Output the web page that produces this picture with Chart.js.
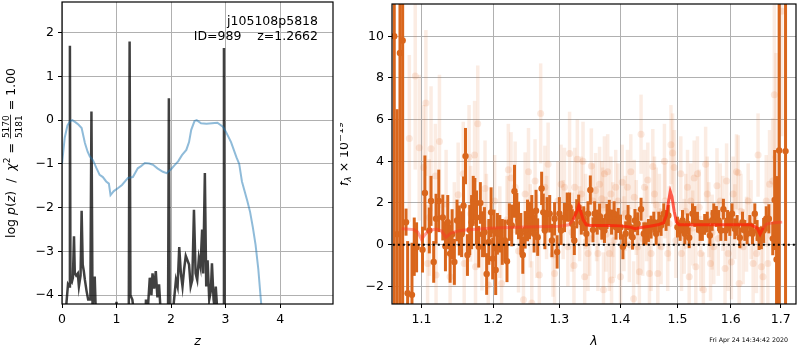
<!DOCTYPE html>
<html>
<head>
<meta charset="utf-8">
<script src="https://cdn.jsdelivr.net/npm/chart.js@4.4.1/dist/chart.umd.min.js"></script>
<style>
  html, body { margin: 0; padding: 0; background: #fff; }
  #wrap { position: relative; width: 800px; height: 350px; overflow: hidden; }
  #pz { position: absolute; left: 0; top: 0; width: 340px; height: 350px; }
  #sp { position: absolute; left: 340px; top: 0; width: 460px; height: 350px; }
</style>
</head>
<body>
<div id="wrap">
  <canvas id="pz" width="340" height="350"></canvas>
  <canvas id="sp" width="460" height="350"></canvas>
</div>
<script>
// ── p(z) panel data ─────────────────────────────────────
const zGrid = [0.05, 0.08, 0.11, 0.135, 0.145, 0.155, 0.18, 0.2, 0.22, 0.235, 0.26, 0.29, 0.31, 0.34, 0.36, 0.38, 0.4, 0.42, 0.45, 0.48, 0.52, 0.54, 0.56, 0.6, 0.62, 0.66,
  0.9, 1.0, 1.02, 1.2, 1.225, 1.24, 1.255, 1.29, 1.32, 1.36,
  1.5, 1.54, 1.57, 1.61, 1.64, 1.66, 1.69, 1.72, 1.75, 1.78, 1.81, 1.85,
  1.94, 1.96, 1.98, 2.04, 2.09, 2.12, 2.15, 2.18, 2.21, 2.24, 2.27, 2.3, 2.33, 2.36, 2.39, 2.42, 2.45, 2.48, 2.51, 2.54, 2.57, 2.59, 2.62, 2.645, 2.67, 2.7, 2.73, 2.75, 2.78, 2.8, 2.82, 2.85, 2.9,
  2.955, 2.97, 2.985, 3.05];
const logPz = [-6, -4.2, -3.75, -3.8, 1.7, -3.65, -3.7, -3.6, -2.65, -3.5, -3.55, -3.5, -3.8, -3.55, -2.07, -3.3, -3.45, -3.65, -3.9, -4.1, -4.1, 0.2, -4.3, -3.57, -4.4, -6,
  -6, -4.15, -6, -6, -4.3, 1.8, -4.0, -4.1, -4.4, -6,
  -6, -4.1, -4.4, -3.6, -4.0, -3.5, -3.85, -3.45, -4.05, -3.75, -4.4, -6,
  -6, 0.5, -6, -4.3, -3.65, -3.8, -2.9, -3.5, -3.8, -3.4, -3.1, -3.2, -3.3, -3.8, -3.65, -2.05, -3.5, -3.65, -3.15, -3.35, -2.5, -3.5, -1.21, -3.8, -3.2, -4.1, -3.9, -3.27, -4.1, -4.3, -3.8, -4.4, -6,
  -6, 1.65, -6, -8];

const zPrior = [0, 0.05, 0.1, 0.15, 0.19, 0.25, 0.3, 0.36, 0.42, 0.47, 0.51, 0.57, 0.63, 0.69, 0.75, 0.81, 0.86, 0.89, 0.95, 1.03, 1.1, 1.21, 1.3, 1.39, 1.45, 1.52, 1.6, 1.67, 1.75, 1.85, 1.92, 2.0, 2.07, 2.13, 2.2, 2.28, 2.33, 2.37, 2.43, 2.47, 2.55, 2.65, 2.75, 2.85, 2.95, 3.0, 3.1, 3.2, 3.25, 3.3, 3.4, 3.45, 3.5, 3.55, 3.6, 3.65, 3.7];
const logPrior = [-1.0, -0.4, -0.12, -0.02, 0, -0.05, -0.1, -0.18, -0.52, -0.72, -0.83, -0.92, -1.09, -1.25, -1.3, -1.4, -1.45, -1.71, -1.62, -1.55, -1.48, -1.32, -1.3, -1.1, -1.05, -0.98, -0.99, -1.02, -1.1, -1.18, -1.21, -1.12, -1.02, -0.94, -0.8, -0.68, -0.5, -0.22, -0.02, 0, -0.07, -0.08, -0.07, -0.06, -0.15, -0.25, -0.5, -0.85, -1.0, -1.4, -1.85, -2.1, -2.45, -2.85, -3.4, -4.15, -4.9];

const zTicks = [0, 1, 2, 3, 4];
const pzTicks = [-4, -3, -2, -1, 0, 1, 2];

// ── spectrum panel data ─────────────────────────────────
const waveDark = [1.0643, 1.0680, 1.0717, 1.0752, 1.0796, 1.0817, 1.0874, 1.0904, 1.0935, 1.1014, 1.1046, 1.1105, 1.1128, 1.1164, 1.1196, 1.1233, 1.1288, 1.1324, 1.1356, 1.1388,
  1.1416, 1.1447, 1.1484, 1.1516, 1.1548, 1.1575, 1.1603, 1.1630, 1.1662, 1.1689, 1.1712, 1.1735, 1.1758, 1.1790, 1.1813, 1.1845, 1.1872, 1.1904, 1.1936, 1.1968,
  1.1991, 1.2010, 1.2035, 1.2060, 1.2095, 1.2131, 1.2171, 1.2201, 1.2236, 1.2271, 1.2312, 1.2347, 1.2372, 1.2407, 1.2437, 1.2472, 1.2508, 1.2538, 1.2573, 1.2608,
  1.2638, 1.2663, 1.2724, 1.2749, 1.2774, 1.2809, 1.2849, 1.2884, 1.2925, 1.2965, 1.3000, 1.3027, 1.3081, 1.3124, 1.3162, 1.3205, 1.3238, 1.3276, 1.3308, 1.3351,
  1.3389, 1.3432, 1.3459, 1.3497, 1.3541, 1.3568, 1.3611, 1.3649, 1.3686, 1.3730, 1.3773, 1.3811, 1.3849, 1.3892, 1.3924, 1.3962, 1.4000, 1.4041, 1.4088, 1.4129,
  1.4165, 1.4206, 1.4247, 1.4294, 1.4353, 1.4400, 1.4441, 1.4482, 1.4529, 1.4576, 1.4618, 1.4665, 1.4706, 1.4753, 1.4794, 1.4835, 1.5000, 1.5049, 1.5092, 1.5135,
  1.5184, 1.5215, 1.5276, 1.5319, 1.5368, 1.5417, 1.5460, 1.5503, 1.5552, 1.5601, 1.5644, 1.5675, 1.5724, 1.5767, 1.5810, 1.5859, 1.5902, 1.5939, 1.5982, 1.6026,
  1.6079, 1.6125, 1.6178, 1.6230, 1.6276, 1.6322, 1.6375, 1.6428, 1.6474, 1.6520, 1.6559, 1.6605, 1.6651, 1.6704, 1.6757, 1.6836, 1.6875, 1.6914, 1.6967, 1.7099];
const fluxDark = [10.0, 0.5, 9.2, 9.8, 1.08, -2.33, -2.41, -0.1, -0.13, -0.24, 2.48, 0.68, 2.1, -0.83, 1.24, 2.1, 1.3, -0.08, 1.08, -0.43,
  0.5, -0.83, 1.16, 0.68, 0.5, 1.87, 4.25, -0.5, 0.7, 1.08, 2.1, 2.2, 1.3, -0.1, 2.0, 0.5, 0.6, -1.41, 0.13, 1.55,
  -0.67, 0.68, -1.22, 0.52, 0.52, 0.13, 0.2, -0.8, 1.08, 0.92, 2.56, 1.48, 1.16, 0.52, -0.5, 0.71, 1.16, 1.16, 1.48, 0.52,
  1.63, 0.36, 2.7, 1.55, 0.68, 1.48, 1.48, 0.2, 1.24, -0.35, 1.48, 0.68, 1.3, 1.8, 1.8, 1.0, 0.2, 1.48, 1.8, 1.08,
  1.24, 0.52, 1.48, 2.62, 0.71, 1.48, 1.08, 1.37, 0.84, 0.68, 1.35, 1.55, 1.08, 1.48, 0.84, 1.16, 0.84, -0.1, 0.52, 1.3,
  0.84, 0.36, 1.16, 1.0, 1.7, 0.52, 0.52, 0.68, 0.84, 1.08, 0.52, 1.08, 0.92, 1.48, 1.16, 1.4, 0.84, 0.68, 1.16, 0.52,
  1.0, 0.33, 1.48, 1.35, 1.08, 0.68, 0.68, 0.97, 1.08, 0.44, 1.16, 1.48, 1.35, 1.16, 0.68, 1.7, 0.68, 1.16, 0.92, 1.48,
  0.76, 0.92, 0.33, 1.08, 0.68, 0.52, 0.92, 0.52, 1.48, 0.68, 0.29, 0.33, 0.68, 1.24, 1.24, 0.29, 2.14, -0.71, 4.52, 4.49];
const errDark = [20, 6, 20, 20, 0.65, 2.5, 2.5, 1.4, 1.2, 1.1, 1.8, 1.1, 1.2, 1.0, 1.2, 1.5, 1.1, 1.2, 1.3, 1.4,
  1.2, 1.1, 1.0, 1.2, 1.1, 1.4, 1.35, 1.0, 1.2, 1.3, 1.2, 1.0, 1.3, 1.0, 1.0, 1.1, 1.2, 1.0, 1.1, 1.2,
  1.0, 1.0, 1.2, 1.0, 0.9, 1.1, 1.0, 1.0, 0.9, 1.0, 1.27, 1.0, 0.9, 1.0, 0.9, 0.9, 1.0, 0.9, 0.9, 0.9,
  1.0, 0.9, 0.8, 0.9, 0.9, 0.8, 0.9, 0.8, 0.8, 0.8, 0.8, 0.7, 0.7, 0.7, 0.7, 0.7, 0.7, 0.7, 0.6, 0.6,
  0.6, 0.6, 0.6, 0.7, 0.6, 0.6, 0.6, 0.6, 0.6, 0.6, 0.6, 0.6, 0.6, 0.6, 0.6, 0.6, 0.6, 0.6, 0.6, 0.6,
  0.55, 0.6, 0.55, 0.55, 0.55, 0.55, 0.55, 0.55, 0.55, 0.5, 0.55, 0.5, 0.5, 0.5, 0.5, 0.5, 0.5, 0.5, 0.5, 0.5,
  0.5, 0.5, 0.5, 0.5, 0.5, 0.5, 0.5, 0.5, 0.5, 0.5, 0.5, 0.5, 0.5, 0.5, 0.5, 0.5, 0.5, 0.5, 0.5, 0.5,
  0.5, 0.5, 0.5, 0.5, 0.5, 0.5, 0.5, 0.5, 0.5, 0.5, 0.55, 0.55, 0.6, 0.6, 0.7, 0.8, 2.4, 4.0, 15, 15];

const waveLight = [1.0839, 1.0917, 1.0970, 1.1027, 1.1059, 1.1082, 1.1105, 1.1128, 1.1187, 1.1196, 1.1242, 1.1333, 1.1388, 1.1447, 1.1500, 1.1571, 1.1584, 1.1653, 1.1676, 1.1731,
  1.1744, 1.1776, 1.1836, 1.1881, 1.1900, 1.1927, 1.2020, 1.2095, 1.2121, 1.2200, 1.2221, 1.2261, 1.2322, 1.2372, 1.2447, 1.2472, 1.2523, 1.2550, 1.2573, 1.2623,
  1.2648, 1.2688, 1.2709, 1.2774, 1.2800, 1.2824, 1.2900, 1.2925, 1.2975, 1.3027, 1.3060, 1.3081, 1.3135, 1.3162, 1.3200, 1.3232, 1.3243, 1.3286, 1.3324, 1.3351,
  1.3378, 1.3405, 1.3420, 1.3459, 1.3486, 1.3514, 1.3541, 1.3584, 1.3600, 1.3622, 1.3649, 1.3686, 1.3700, 1.3714, 1.3730, 1.3757, 1.3784, 1.3811, 1.3838, 1.3849,
  1.3870, 1.3892, 1.3919, 1.3957, 1.4000, 1.4029, 1.4059, 1.4080, 1.4118, 1.4150, 1.4176, 1.4224, 1.4235, 1.4270, 1.4294, 1.4324, 1.4353, 1.4382, 1.4412, 1.4450,
  1.4471, 1.4500, 1.4529, 1.4559, 1.4588, 1.4620, 1.4647, 1.4676, 1.4706, 1.4765, 1.4776, 1.4824, 1.4850, 1.4882, 1.4912, 1.4941, 1.4971, 1.5061, 1.5074, 1.5123,
  1.5150, 1.5184, 1.5215, 1.5245, 1.5280, 1.5307, 1.5337, 1.5368, 1.5400, 1.5429, 1.5479, 1.5521, 1.5552, 1.5580, 1.5613, 1.5644, 1.5675, 1.5736, 1.5760, 1.5798,
  1.5850, 1.5890, 1.5920, 1.5951, 1.6013, 1.6046, 1.6080, 1.6112, 1.6145, 1.6164, 1.6200, 1.6243, 1.6309, 1.6342, 1.6400, 1.6441, 1.6507, 1.6539, 1.6605, 1.6638,
  1.6704, 1.6737, 1.6770, 1.6836, 1.6868, 1.6901, 1.7020];
const fluxLight = [5.1, 8.1, 4.65, 3.7, 6.8, -0.9, 1.3, 4.6, 3.3, -1.46, 4.95, 1.95, -1.54, 0.5, 2.4, 3.4, -0.9, 4.2, 1.48, 4.3,
  -1.06, 5.8, 0.2, 2.7, 1.0, -1.94, 2.1, 0.6, -1.86, 1.2, 3.6, 3.2, 2.75, -0.3, -2.65, 2.43, 3.5, 0.9, -2.8, 3.06,
  0.4, -1.46, 6.3, 2.75, 1.3, 3.86, -0.5, -1.38, 2.1, 2.9, 1.2, 2.75, -0.1, 4.38, 0.6, -1.0, 2.75, 4.1, 1.0, 2.43,
  4.0, -1.54, 1.6, -0.43, 0.3, 3.78, 2.1, 2.6, 1.0, -0.43, 2.9, 2.2, 1.9, -2.17, 3.4, 0.5, 3.5, -0.43, 2.43, -1.7,
  1.2, 0.2, 2.75, 2.1, -1.54, 3.0, 0.52, 1.5, 2.75, 0.0, 3.5, -2.6, 2.27, 1.3, -0.1, -1.3, 5.3, 0.3, 2.75, 1.0,
  3.1, -1.38, -0.43, 3.75, 2.43, 1.9, -1.38, 1.6, -0.1, 4.0, 2.1, -0.43, 1.0, 4.8, 4.4, 3.7, 0.2, 3.4, -0.43, 0.4,
  1.6, 2.75, -1.54, 2.1, 0.8, 3.2, -1.06, 3.4, 1.8, -0.43, -2.17, 3.86, 2.43, 1.2, -0.9, 0.6, -0.1, 2.83, 0.3, 2.1,
  1.5, -1.14, 3.06, -0.43, -0.83, 2.43, 1.1, 3.5, 3.45, -1.86, 1.6, -0.1, 0.5, 2.1, 1.2, -0.9, -0.43, 4.3, -1.06, -1.54,
  2.1, -0.9, 2.9, 3.06, 7.2, 4.2, 11.2];
const errLight = [4.0, 4.5, 3.5, 3.0, 3.5, 2.8, 2.8, 3.0, 2.5, 2.5, 3.2, 2.6, 2.6, 2.5, 2.5, 2.5, 2.6, 2.5, 2.3, 2.6,
  2.4, 2.8, 2.4, 2.3, 2.4, 2.4, 2.2, 2.2, 2.3, 2.1, 2.2, 2.2, 2.2, 2.0, 2.0, 2.0, 2.1, 2.0, 2.0, 2.0,
  2.0, 2.0, 2.4, 2.0, 2.0, 2.0, 2.0, 1.9, 1.9, 1.9, 1.9, 1.9, 1.9, 2.0, 1.9, 1.9, 1.9, 1.9, 1.8, 1.8,
  1.9, 1.8, 1.8, 1.8, 1.8, 1.8, 1.8, 1.8, 1.8, 1.8, 1.8, 1.8, 1.8, 1.8, 1.8, 1.8, 1.8, 1.8, 1.8, 1.8,
  1.8, 1.8, 1.8, 1.8, 1.8, 1.8, 1.8, 1.8, 1.8, 1.8, 1.8, 1.8, 1.8, 1.8, 1.8, 1.8, 1.9, 1.8, 1.8, 1.8,
  1.8, 1.8, 1.8, 1.8, 1.8, 1.8, 1.8, 1.8, 1.8, 1.8, 1.8, 1.8, 1.8, 1.9, 1.9, 1.8, 1.8, 1.8, 1.8, 1.8,
  1.8, 1.8, 1.8, 1.8, 1.8, 1.8, 1.8, 1.8, 1.8, 1.8, 1.8, 1.8, 1.8, 1.8, 1.8, 1.8, 1.8, 1.8, 1.8, 1.8,
  1.8, 1.8, 1.8, 1.8, 1.8, 1.8, 1.8, 1.8, 1.8, 1.8, 1.8, 1.8, 1.8, 1.8, 1.9, 1.9, 1.9, 2.0, 2.0, 2.0,
  2.2, 2.4, 2.6, 3.0, 4.5, 5.0, 6.0];

const waveModel = [1.074, 1.08, 1.09, 1.095, 1.1, 1.104, 1.11, 1.12, 1.127, 1.133, 1.14, 1.15, 1.16, 1.18, 1.2, 1.25, 1.3, 1.315, 1.322, 1.328, 1.331, 1.334, 1.338, 1.343, 1.35,
  1.38, 1.4, 1.415, 1.425, 1.435, 1.45, 1.465, 1.475, 1.48, 1.484, 1.487, 1.49, 1.494, 1.498, 1.503, 1.52, 1.55, 1.6, 1.64, 1.652, 1.658, 1.664, 1.672, 1.685, 1.703];
const fluxModel = [0.76, 0.75, 0.72, 0.6, 0.25, 0.45, 0.68, 0.75, 0.65, 0.35, 0.55, 0.65, 0.7, 0.75, 0.8, 0.85, 0.88, 0.95, 1.2, 1.6, 1.87, 1.6, 1.2, 0.95, 0.92,
  0.92, 0.9, 0.85, 0.76, 0.82, 0.88, 0.95, 1.05, 1.4, 2.1, 2.55, 2.3, 1.6, 1.1, 0.95, 0.95, 0.95, 0.95, 0.95, 0.8, 0.5, 0.8, 1.0, 1.05, 1.08];

const lamTicks = [1.1, 1.2, 1.3, 1.4, 1.5, 1.6, 1.7];
const fluxTicks = [-2, 0, 2, 4, 6, 8, 10];

// ── helpers ─────────────────────────────────────────────
const FONT = 'DejaVu Sans';
const pts = (xs, ys) => xs.map((x, i) => ({ x, y: ys[i] }));
const fmt = v => (v < 0 ? '\u2212' + Math.abs(v) : String(v));

Chart.defaults.font.family = FONT;
Chart.defaults.font.size = 12.5;
Chart.defaults.color = '#000';

// fixed-size axis: no extra label padding so the plot box lands where it should
function axis(ticks, extra, size) {
  return Object.assign({
    afterBuildTicks: s => { s.ticks = ticks.map(v => ({ value: v })); },
    afterFit: s => {
      if (s.isHorizontal()) { s.height = size; s.paddingLeft = 0; s.paddingRight = 0; }
      else { s.width = size; s.paddingTop = 0; s.paddingBottom = 0; }
    },
    grid: { color: '#b0b0b0', lineWidth: 1, tickColor: '#000', tickLength: 4, tickWidth: 1 },
    border: { display: false },
    ticks: { padding: 4, maxRotation: 0, autoSkip: false, callback: fmt },
  }, extra);
}

// vertical error bars, drawn just before their own points
const errorBars = {
  id: 'errorBars',
  beforeDatasetDraw(chart, args) {
    const ds = chart.data.datasets[args.index];
    if (!ds.err) return;
    const { ctx, chartArea: a, scales: { x, y } } = chart;
    ctx.save();
    ctx.beginPath();
    ctx.rect(a.left, a.top, a.right - a.left, a.bottom - a.top);
    ctx.clip();
    ctx.strokeStyle = ds.errColor;
    ctx.lineWidth = ds.errWidth;
    ds.data.forEach((p, i) => {
      const px = x.getPixelForValue(p.x);
      ctx.beginPath();
      ctx.moveTo(px, y.getPixelForValue(p.y - ds.err[i]));
      ctx.lineTo(px, y.getPixelForValue(p.y + ds.err[i]));
      ctx.stroke();
    });
    ctx.restore();
  }
};

const frame = {
  id: 'frame',
  afterDatasetsDraw(chart) {
    const { ctx, chartArea: a } = chart;
    ctx.save();
    ctx.strokeStyle = '#000';
    ctx.lineWidth = 1.2;
    ctx.strokeRect(a.left, a.top, a.right - a.left, a.bottom - a.top);
    ctx.restore();
  }
};

// draw runs of mixed-style text centred on (0,0) baseline
function runs(ctx, list) {
  let w = 0;
  list.forEach(r => {
    ctx.font = r.font;
    r.w = r.frac ? Math.max(ctx.measureText(r.frac[0]).width, ctx.measureText(r.frac[1]).width) + 2 : ctx.measureText(r.t).width;
    w += r.w;
  });
  let x = -w / 2;
  list.forEach(r => {
    ctx.font = r.font;
    if (r.frac) {
      ctx.textAlign = 'center';
      ctx.fillText(r.frac[0], x + r.w / 2, -6.5);
      ctx.fillText(r.frac[1], x + r.w / 2, 7);
      ctx.fillRect(x + 0.5, -4.8, r.w - 1, 0.8);
      ctx.textAlign = 'left';
    } else {
      ctx.fillText(r.t, x, r.dy || 0);
    }
    x += r.w;
  });
}

const N = `12.5px "${FONT}"`, I = `italic 12.5px "${FONT}"`, S = `9px "${FONT}"`, SI = `italic 9px "${FONT}"`;

const pzLabels = {
  id: 'pzLabels',
  afterDraw(chart) {
    const { ctx, chartArea: a } = chart;
    ctx.save();
    ctx.fillStyle = '#000';
    ctx.textBaseline = 'alphabetic';
    ctx.textAlign = 'right';
    ctx.font = N;
    ctx.fillText('j105108p5818', 318, 24.5);
    ctx.fillText('ID=989    z=1.2662', 318, 39.5);
    ctx.textAlign = 'center';
    ctx.font = I;
    ctx.fillText('z', (a.left + a.right) / 2, 345);
    ctx.textAlign = 'left';
    ctx.translate(15, (a.top + a.bottom) / 2);
    ctx.rotate(-Math.PI / 2);
    runs(ctx, [
      { t: 'log ', font: N }, { t: 'p', font: I }, { t: '(', font: N }, { t: 'z', font: I }, { t: ')  /  ', font: N },
      { t: '\u03c7', font: I }, { t: '2', font: S, dy: -5 }, { t: ' = ', font: N },
      { frac: ['5170', '5181'], font: S }, { t: ' = 1.00', font: N },
    ]);
    ctx.restore();
  }
};

const spLabels = {
  id: 'spLabels',
  afterDraw(chart) {
    const { ctx, chartArea: a } = chart;
    ctx.save();
    ctx.fillStyle = '#000';
    ctx.textBaseline = 'alphabetic';
    ctx.textAlign = 'center';
    ctx.font = I;
    ctx.fillText('\u03bb', (a.left + a.right) / 2, 345);
    ctx.textAlign = 'right';
    ctx.font = `6.3px "${FONT}"`;
    ctx.fillText('Fri Apr 24 14:34:42 2020', 448, 342);
    ctx.textAlign = 'left';
    ctx.translate(8, (a.top + a.bottom) / 2);
    ctx.rotate(-Math.PI / 2);
    runs(ctx, [
      { t: 'f', font: I }, { t: '\u03bb', font: SI, dy: 3 }, { t: ' \u00d7 10', font: N }, { t: '\u221219', font: `9.5px "${FONT}"`, dy: -5.5 },
    ]);
    ctx.restore();
  }
};

const common = {
  responsive: false,
  animation: false,
  events: [],
  plugins: { legend: { display: false }, tooltip: { enabled: false } },
};

// ── left: log p(z) ──────────────────────────────────────
new Chart(document.getElementById('pz'), {
  type: 'scatter',
  data: {
    datasets: [
      { data: pts(zGrid, logPz), showLine: true, borderColor: 'rgba(0,0,0,0.75)', borderWidth: 2.5, pointRadius: 0, order: 2 },
      { data: pts(zPrior, logPrior), showLine: true, borderColor: 'rgba(31,119,180,0.5)', borderWidth: 2, pointRadius: 0, order: 1 },
    ]
  },
  options: Object.assign({}, common, {
    layout: { padding: { left: 0, top: 2, right: 7, bottom: 0 } },
    scales: {
      x: axis(zTicks, { type: 'linear', min: 0, max: 4.97 }, 46),
      y: axis(pzTicks, { type: 'linear', min: -4.2, max: 2.7 }, 62),
    }
  }),
  plugins: [frame, pzLabels]
});

// ── right: spectrum ─────────────────────────────────────
const modelColor = ctx => {
  const x0 = ctx.p0.parsed.x;
  return (x0 > 1.318 && x0 < 1.66) ? 'rgba(255,30,10,0.72)' : 'rgba(255,50,40,0.45)';
};

new Chart(document.getElementById('sp'), {
  type: 'scatter',
  data: {
    datasets: [
      { data: pts(waveLight, fluxLight), err: errLight, errColor: 'rgba(225,110,40,0.13)', errWidth: 3.5,
        pointRadius: 3.5, backgroundColor: 'rgba(225,110,40,0.15)', borderWidth: 0, order: 4 },
      { data: pts(waveDark, fluxDark), err: errDark, errColor: '#d9661c', errWidth: 3,
        pointRadius: 3.2, backgroundColor: '#d9661c', borderWidth: 0, order: 3 },
      { data: pts(waveModel, fluxModel), showLine: true, pointRadius: 0, borderWidth: 3,
        borderColor: 'rgba(255,50,40,0.45)', segment: { borderColor: modelColor }, order: 2 },
      { data: [{ x: 1.0, y: 0 }, { x: 1.8, y: 0 }], showLine: true, pointRadius: 0, borderWidth: 2,
        borderColor: '#000', borderDash: [2, 3], order: 1 },
    ]
  },
  options: Object.assign({}, common, {
    layout: { padding: { left: 0, top: 2, right: 1, bottom: 0 } },
    scales: {
      x: axis(lamTicks, { type: 'logarithmic', min: 1.0614, max: 1.7317,
        ticks: { padding: 4, maxRotation: 0, autoSkip: false, callback: v => Number(v).toFixed(1) } }, 46),
      y: axis(fluxTicks, { type: 'linear', min: -2.85, max: 11.55 }, 52),
    }
  }),
  plugins: [errorBars, frame, spLabels]
});
</script>
</body>
</html>
